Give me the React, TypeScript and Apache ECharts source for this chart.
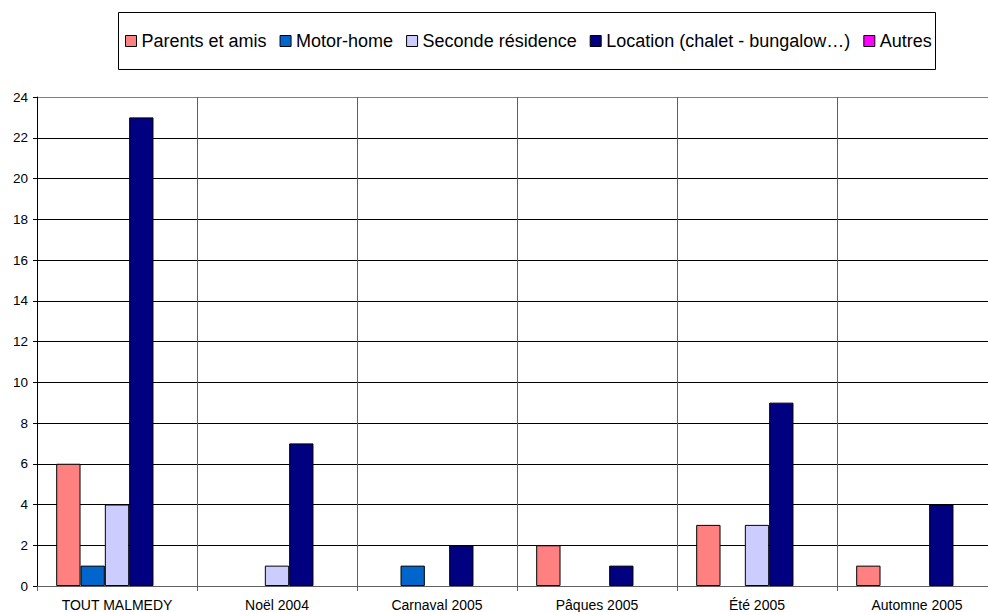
import React, { useEffect, useRef } from "react";
import * as echarts from "echarts";

const categories = ["TOUT MALMEDY", "Noël 2004", "Carnaval 2005", "Pâques 2005", "Été 2005", "Automne 2005"];
const seriesNames = ["Parents et amis", "Motor-home", "Seconde résidence", "Location (chalet - bungalow…)", "Autres"];
const parentsAmis = [6, 0, 0, 2, 3, 1];
const motorHome = [1, 0, 1, 0, 0, 0];
const secondeResidence = [4, 1, 0, 0, 3, 0];
const location = [23, 7, 2, 1, 9, 4];
const autres = [0, 0, 0, 0, 0, 0];
const colors = ["#FF8080", "#0066CC", "#CCCCFF", "#000080", "#FF00FF"];
const yTicks = [0, 2, 4, 6, 8, 10, 12, 14, 16, 18, 20, 22, 24];

const FONT = "'Liberation Sans', Arial, sans-serif";

export default function App() {
  const ref = useRef<HTMLDivElement>(null);
  useEffect(() => {
    if (!ref.current) return;
    const chart = echarts.init(ref.current, null, { renderer: "svg" });
    const allData = [parentsAmis, motorHome, secondeResidence, location, autres];
    const splitColors = yTicks.map((_, i) => (i === yTicks.length - 1 ? "#808080" : "#000000"));
    chart.setOption({
      animation: false,
      backgroundColor: "#ffffff",
      textStyle: { fontFamily: FONT, color: "#000" },
      graphic: [
        {
          type: "rect",
          shape: { x: 118.5, y: 12.5, width: 817, height: 57 },
          style: { fill: "none", stroke: "#000", lineWidth: 1 },
          z: 10,
        },
      ],
      legend: {
        left: 125,
        top: 32,
        padding: 0,
        itemWidth: 11,
        itemHeight: 11,
        itemGap: 13,
        icon: "rect",
        textStyle: { fontFamily: FONT, fontSize: 18, color: "#000", padding: [0, 0, 0, 0] },
        itemStyle: { borderColor: "#000", borderWidth: 1 },
        data: seriesNames,
      },
      grid: { left: 37, top: 97, width: 960, height: 489, containLabel: false },
      xAxis: {
        type: "category",
        data: categories,
        axisLine: { show: true, lineStyle: { color: "#606060", width: 1 } },
        axisTick: { show: true, length: 5, lineStyle: { color: "#606060" } },
        axisLabel: { fontFamily: FONT, fontSize: 14, color: "#000", margin: 12, interval: 0 },
        splitLine: { show: true, lineStyle: { color: "#606060", width: 1 } },
      },
      yAxis: {
        type: "value",
        min: 0,
        max: 24,
        interval: 2,
        axisLine: { show: true, lineStyle: { color: "#000", width: 1 } },
        axisTick: { show: true, length: 4, lineStyle: { color: "#000" } },
        axisLabel: { fontFamily: FONT, fontSize: 13.5, color: "#000", margin: 9 },
        splitLine: { show: true, lineStyle: { color: splitColors, width: 1 } },
      },
      series: seriesNames.map((name, i) => ({
        name,
        type: "bar",
        barGap: "0%",
        barCategoryGap: "24%",
        itemStyle: { color: colors[i], borderColor: "#000", borderWidth: 1 },
        data: allData[i].map((v) => (v === 0 ? "-" : v)),
      })),
    });
    return () => chart.dispose();
  }, []);
  return (
    <div style={{ position: "fixed", left: 0, top: 0, width: 988, height: 612, overflow: "hidden", background: "#fff" }}>
      <div ref={ref} style={{ width: 1010, height: 612 }} />
    </div>
  );
}
